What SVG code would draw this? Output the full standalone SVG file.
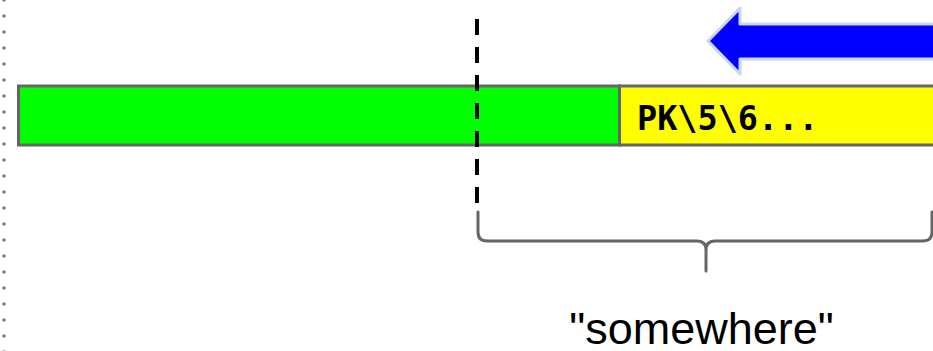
<svg xmlns="http://www.w3.org/2000/svg" width="933" height="351" viewBox="0 0 933 351">
  <style>
    .seg { stroke: #666666; stroke-width: 3; }
    .brace { fill: none; stroke: #666666; stroke-width: 3; stroke-linecap: round; stroke-linejoin: round; }
    .mono { font-family: "DejaVu Sans Mono", "Liberation Mono", monospace; font-weight: bold; font-size: 33.5px; fill: #000000; }
    .label { font-family: "Liberation Sans", Arial, sans-serif; font-size: 45px; fill: #000000; }
  </style>
  <rect x="0" y="0" width="933" height="351" fill="#ffffff"/>

  <!-- left margin: dotted guide -->
  <line x1="4" y1="-1.5" x2="4" y2="360" stroke="#777777" stroke-width="3" stroke-dasharray="3 13"/>

  <!-- byte stream: leading data -->
  <g id="leading-data">
    <rect class="seg" x="18.5" y="86" width="601" height="59" fill="#00ff00"/>
  </g>

  <!-- byte stream: archive signature -->
  <g id="signature">
    <rect class="seg" x="619.5" y="86" width="330" height="59" fill="#ffff00"/>
    <text class="mono" x="637" y="130">PK\5\6...</text>
  </g>

  <!-- scan direction arrow -->
  <g id="scan-arrow">
    <path d="M708,41 L740,8 L740,24 L945,24 L945,59 L740,59 L740,74 Z" fill="#0000ff" stroke="#c6d9f1" stroke-width="3" stroke-linejoin="round"/>
  </g>

  <g id="connectors">
    <!-- cut-off marker -->
    <line x1="477" y1="19" x2="477" y2="204" stroke="#000000" stroke-width="4" stroke-dasharray="16 12"/>
    <!-- brace spanning the searched range -->
    <path class="brace" d="M478,212 L478,232 Q478,241 487,241 L697,241 Q706,241 706,250 L706,271 M706,250 Q706,241 715,241 L923,241 Q932,241 932,232 L932,212"/>
  </g>

  <g id="range-label">
    <text class="label" x="701.5" y="344" text-anchor="middle">"somewhere"</text>
  </g>
</svg>
